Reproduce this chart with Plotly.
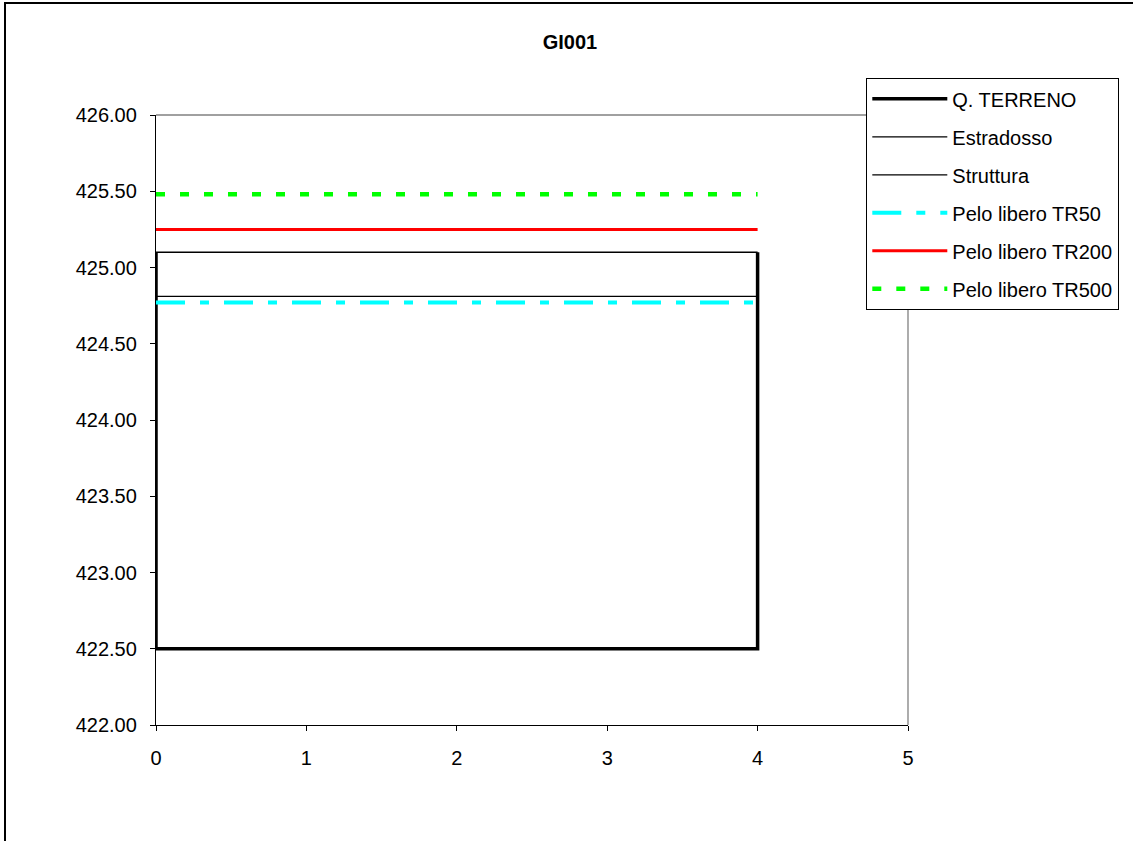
import plotly.graph_objects as go

title = "GI001"
x_range = [0, 5]
y_range = [422, 426]
y_ticks = [422.0, 422.5, 423.0, 423.5, 424.0, 424.5, 425.0, 425.5, 426.0]
x_ticks = [0, 1, 2, 3, 4, 5]

terreno_x = [0, 0, 4, 4]
terreno_y = [425.10, 422.50, 422.50, 425.10]
estradosso_x = [0, 4]
estradosso_y = [425.10, 425.10]
struttura_x = [0, 4]
struttura_y = [424.81, 424.81]
tr50_x = [0, 4]
tr50_y = [424.77, 424.77]
tr200_x = [0, 4]
tr200_y = [425.25, 425.25]
tr500_x = [0, 4]
tr500_y = [425.48, 425.48]

fig = go.Figure()
series = [
    ("Q. TERRENO", terreno_x, terreno_y, dict(color="black", width=3.5)),
    ("Estradosso", estradosso_x, estradosso_y, dict(color="black", width=1.3)),
    ("Struttura", struttura_x, struttura_y, dict(color="black", width=1.3)),
    ("Pelo libero TR50", tr50_x, tr50_y, dict(color="#00FFFF", width=4, dash="29px,15px,9px,15px")),
    ("Pelo libero TR200", tr200_x, tr200_y, dict(color="#FF0000", width=3)),
    ("Pelo libero TR500", tr500_x, tr500_y, dict(color="#00FF00", width=4.5, dash="9px,15px")),
]
for i, (name, xs, ys, line) in enumerate(series):
    fig.add_trace(go.Scatter(x=xs, y=ys, mode="lines", name=name, line=line,
                             legendgroup=f"g{i}"))

L, T, R, B = 156, 115, 908, 725
W, H = 1133, 841
fig.update_layout(
    width=W, height=H,
    margin=dict(l=L, r=W - R, t=T, b=H - B),
    paper_bgcolor="white", plot_bgcolor="white",
    font=dict(family="Arial, Liberation Sans, sans-serif", size=20, color="black"),
    title=dict(text="<b>" + title + "</b>", x=570 / W, xanchor="center",
               y=1 - 42 / H, yanchor="middle", font=dict(size=20)),
    showlegend=True,
    legend=dict(x=(866 - L) / (R - L), y=(B - 78) / (B - T), xanchor="left", yanchor="top",
                bordercolor="black", borderwidth=1.3, bgcolor="white",
                font=dict(size=20), itemwidth=75, tracegroupgap=9,
                traceorder="grouped"),
)
fig.update_xaxes(range=x_range, tickvals=x_ticks, ticktext=[str(v) for v in x_ticks],
                 showgrid=False, zeroline=False, showline=True, linecolor="black",
                 linewidth=1.3, ticks="outside", ticklen=5, tickcolor="black",
                 tickwidth=1.3, ticklabelstandoff=10)
fig.update_yaxes(range=y_range, tickvals=y_ticks, ticktext=[f"{v:.2f}" for v in y_ticks],
                 showgrid=False, zeroline=False, showline=True, linecolor="black",
                 linewidth=1.3, ticks="outside", ticklen=5, tickcolor="black",
                 tickwidth=1.3, ticklabelstandoff=9)
# gray top/right plot border
fig.add_shape(type="line", xref="paper", yref="paper", x0=0, x1=1, y0=1, y1=1,
              line=dict(color="#808080", width=1.3), layer="below")
fig.add_shape(type="line", xref="paper", yref="paper", x0=1, x1=1, y0=0, y1=1,
              line=dict(color="#808080", width=1.3), layer="below")
# outer chart border
fig.add_shape(type="rect", xref="paper", yref="paper",
              x0=(5 - L) / (R - L), x1=(1140 - L) / (R - L),
              y0=(B - 846) / (B - T), y1=(B - 3) / (B - T),
              line=dict(color="black", width=2))

fig.write_html("out.html",
               config={"displayModeBar": False},
               post_script="document.body.style.margin='0';document.body.style.overflow='hidden';")
